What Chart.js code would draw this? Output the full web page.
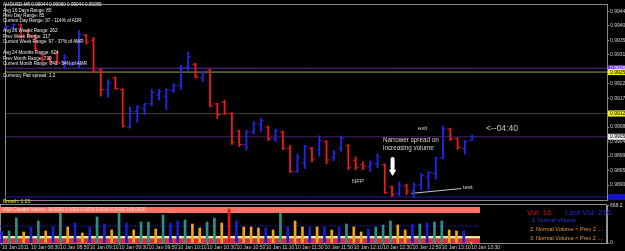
<!DOCTYPE html>
<html><head><meta charset="utf-8">
<script src="https://cdn.jsdelivr.net/npm/chart.js@4.4.1/dist/chart.umd.min.js"></script>
<style>
html,body{margin:0;padding:0;background:#000;width:625px;height:251px;overflow:hidden;}
canvas{position:absolute;left:0;display:block;}
#c1{top:0}
#c2{top:203px}
.t{position:absolute;white-space:nowrap;line-height:1;font-family:"Liberation Sans",Arial,sans-serif;transform:scale(0.5);transform-origin:0 0;}
</style></head><body>
<canvas id="c1" width="625" height="204"></canvas>
<canvas id="c2" width="625" height="48"></canvas>
<div id="txt"></div>
<script>
// ---------- data ----------
const timeLabels = ["10 Jan 2011","10 Jan 08:30","10 Jan 08:50","10 Jan 09:10","10 Jan 09:30","10 Jan 09:50","10 Jan 10:10","10 Jan 10:30","10 Jan 10:50","10 Jan 11:10","10 Jan 11:30","10 Jan 11:50","10 Jan 12:10","10 Jan 12:30","10 Jan 12:50","10 Jan 13:10","10 Jan 13:30"];
const opens  = [0.99394,0.99394,0.99403,0.99382,0.99370,0.99310,0.99298,0.99313,0.99283,0.99280,0.99283,0.99370,0.99355,0.99262,0.99202,0.99238,0.99202,0.99085,0.99133,0.99142,0.99157,0.99184,0.99181,0.99199,0.99214,0.99271,0.99280,0.99238,0.99262,0.99157,0.99163,0.99127,0.99073,0.99031,0.99070,0.99094,0.99085,0.99049,0.99070,0.99019,0.98947,0.98974,0.99019,0.99013,0.99040,0.98989,0.99019,0.99028,0.98980,0.98968,0.98962,0.98971,0.98968,0.98899,0.98878,0.98902,0.98887,0.98905,0.98929,0.98941,0.98989,0.99079,0.99049,0.99019,0.99044];
const highs  = [0.99400,0.99406,0.99406,0.99388,0.99373,0.99313,0.99304,0.99319,0.99310,0.99289,0.99385,0.99373,0.99364,0.99268,0.99232,0.99241,0.99205,0.99148,0.99151,0.99160,0.99202,0.99202,0.99205,0.99220,0.99277,0.99319,0.99283,0.99259,0.99265,0.99160,0.99169,0.99130,0.99076,0.99076,0.99103,0.99112,0.99088,0.99079,0.99073,0.99028,0.99001,0.99028,0.99022,0.99058,0.99043,0.99013,0.99058,0.99031,0.98992,0.98977,0.98980,0.99001,0.98971,0.98902,0.98914,0.98908,0.98911,0.98941,0.98947,0.98992,0.99088,0.99082,0.99052,0.99043,0.99060];
const lows   = [0.99391,0.99388,0.99361,0.99364,0.99322,0.99289,0.99283,0.99280,0.99265,0.99274,0.99268,0.99343,0.99253,0.99181,0.99178,0.99202,0.99085,0.99082,0.99100,0.99124,0.99151,0.99169,0.99139,0.99193,0.99202,0.99259,0.99238,0.99226,0.99148,0.99112,0.99124,0.99031,0.99025,0.99013,0.99064,0.99070,0.99043,0.99040,0.99016,0.98944,0.98944,0.98956,0.98977,0.98995,0.98971,0.98980,0.99010,0.98953,0.98953,0.98953,0.98947,0.98959,0.98878,0.98869,0.98872,0.98875,0.98866,0.98890,0.98890,0.98923,0.98986,0.99043,0.99016,0.99001,0.99044];
const closes = [0.99397,0.99403,0.99367,0.99370,0.99328,0.99295,0.99289,0.99286,0.99301,0.99286,0.99373,0.99349,0.99259,0.99202,0.99223,0.99205,0.99088,0.99133,0.99148,0.99157,0.99193,0.99196,0.99202,0.99214,0.99268,0.99304,0.99241,0.99253,0.99151,0.99124,0.99127,0.99037,0.99031,0.99070,0.99094,0.99106,0.99049,0.99073,0.99019,0.98947,0.98989,0.99025,0.98986,0.99043,0.98983,0.99004,0.99049,0.98959,0.98959,0.98962,0.98971,0.98992,0.98881,0.98875,0.98902,0.98887,0.98905,0.98935,0.98944,0.98989,0.99079,0.99049,0.99022,0.99040,0.99055];
const priceTicks = [0.99445,0.99400,0.99355,0.99310,0.99265,0.99220,0.99175,0.99130,0.99085,0.99040,0.98995,0.98950,0.98905];
const levelValues = [0.99268,0.99256,0.99127,0.99055,0.98868];
const volumes = [216,216,450,198,288,396,216,288,540,288,360,180,288,468,342,234,540,360,234,378,378,252,504,360,396,414,342,270,378,450,360,612,396,288,288,270,270,234,540,288,396,288,288,288,288,234,288,342,288,198,252,288,324,396,324,234,342,342,360,378,396,234,216,216,16];
const volumeClass = ["B","T","T","O","B","T","O","B","T","O","B","O","B","T","B","O","T","B","O","T","T","O","T","B","B","T","O","O","T","T","O","R","B","O","O","O","B","O","T","B","O","O","B","O","B","O","B","T","O","O","B","T","T","T","O","O","B","T","B","T","T","O","O","B","O"];
const volumeTicks = [0, 668.2];
const volumeMA = [306];
const bandTops = [648, 126, 81];
const bandBottoms = [540, 81, 0];
const testLineX = [55.67, 62.48];
const testLineY = [0.98879, 0.98894];
const arrowX = [53.07];
const arrowY = [0.98986, 0.98956, 0.98946];

// ---------- setup ----------
Chart.defaults.font.family = '"Liberation Sans", Arial, sans-serif';
const xMin = -0.23, xMax = 82.52, bandEnd = 65.2;
const upC = '#2626e8', dnC = '#e81c1c';
const barColors = opens.map((o, i) => closes[i] >= o ? upC : dnC);
const volPalette = {T:'#2c9089', B:'#1c1cd2', O:'#f2a21e', R:'#e41818'};
const volColors = volumeClass.map(c => volPalette[c]);
const levelStyles = [
  {c:'#5e2aa6', d:[], box:'#7a3ae6', t:'#ffffff'},
  {c:'#a0a040', d:[], box:'#f0f020', t:'#000000'},
  {c:'#80806a', d:[1,1], box:'#f0f020', t:'#000000'},
  {c:'#8444cc', d:[1,1], box:'#e8e8e8', t:'#000000'},
  {c:'#1e1eb0', d:[], box:'#1414c8', t:'#1414c8'}
];

const framePlugin = {
  id:'frame',
  beforeDatasetsDraw(chart){
    const {ctx, chartArea:a} = chart;
    ctx.save();
    ctx.strokeStyle = '#8a8a8a'; ctx.lineWidth = 1;
    ctx.strokeRect(Math.round(a.left)+0.5, Math.round(a.top)-0.5, Math.round(a.right-a.left)-1, Math.round(a.bottom-a.top)+1);
    ctx.restore();
  }
};
const axisBoxes = {
  id:'axisBoxes',
  afterDraw(chart){
    const {ctx, scales:{y}, chartArea:a} = chart;
    ctx.save();
    ctx.font = '5px "Liberation Sans", Arial, sans-serif';
    ctx.textBaseline = 'middle';
    levelValues.forEach((v, k) => {
      const py = y.getPixelForValue(v);
      const s = levelStyles[k];
      ctx.fillStyle = s.box; ctx.fillRect(a.right + 1, py - 3, 18, 6);
      ctx.fillStyle = s.t; ctx.fillText(v.toFixed(5), a.right + 3, py + 0.3);
    });
    ctx.restore();
  }
};
function zeroPad(s){ s.paddingTop = 0; s.paddingBottom = 0; s.paddingLeft = 0; s.paddingRight = 0; }

// ---------- price chart ----------
const lineBase = {type:'line', pointRadius:0, pointHoverRadius:0, fill:false, tension:0};
new Chart(document.getElementById('c1'), {
  type:'bar',
  data:{datasets:[
    {type:'line', data: opens.map((v,i)=>({x:i-0.2, y:v})), showLine:false, pointStyle:'line', pointRadius:1.5, pointHoverRadius:1.5, pointBorderWidth:1, pointBorderColor:barColors, pointBackgroundColor:barColors},
    {type:'line', data: closes.map((v,i)=>({x:i+0.2, y:v})), showLine:false, pointStyle:'line', pointRadius:1.5, pointHoverRadius:1.5, pointBorderWidth:1, pointBorderColor:barColors, pointBackgroundColor:barColors},
    {type:'bar', data: highs.map((h,i)=>({x:i, y:[lows[i], h]})), backgroundColor:barColors, barThickness:1.2, grouped:false},
    Object.assign({}, lineBase, {data: testLineX.map((x,k)=>({x, y:testLineY[k]})), borderColor:'#c8c8c8', borderWidth:1}),
    Object.assign({}, lineBase, {data: [{x:arrowX[0], y:arrowY[0]},{x:arrowX[0], y:arrowY[1]}], borderColor:'#ffffff', borderWidth:4, borderCapStyle:'round'}),
    {type:'line', data:[{x:arrowX[0], y:arrowY[2]}], showLine:false, pointStyle:'triangle', rotation:180, pointRadius:3.5, pointHoverRadius:3.5, pointBackgroundColor:'#ffffff', pointBorderColor:'#ffffff'},
    ...levelValues.map((v,k)=>Object.assign({}, lineBase, {data:[{x:xMin,y:v},{x:xMax,y:v}], borderColor:levelStyles[k].c, borderWidth:1, borderDash:levelStyles[k].d}))
  ]},
  options:{
    responsive:false, animation:false, devicePixelRatio:1,
    layout:{padding:{top:1,bottom:1,left:0,right:0}},
    plugins:{legend:{display:false}, tooltip:{enabled:false}},
    scales:{
      x:{type:'linear', min:xMin, max:xMax, display:false, offset:false, grid:{offset:false}},
      y:{position:'right', min:0.98860, max:0.99466,
         afterBuildTicks(s){ s.ticks = priceTicks.map(v=>({value:v})); },
         afterFit(s){ s.width = 18; zeroPad(s); },
         ticks:{font:{size:5}, color:'#cfcfcf', padding:1, autoSkip:false, callback:v=>Number(v).toFixed(5)},
         grid:{display:true, drawOnChartArea:false, tickLength:2, color:'#9a9a9a'},
         border:{display:true, color:'#9a9a9a'}}
    }
  },
  plugins:[framePlugin, axisBoxes]
});

// ---------- volume chart ----------
new Chart(document.getElementById('c2'), {
  type:'bar',
  data:{datasets:[
    {type:'bar', data: volumes.map((v,i)=>({x:i, y:v})), backgroundColor:volColors, barThickness:2, grouped:false},
    Object.assign({}, lineBase, {data:[{x:xMin,y:volumeMA[0]},{x:bandEnd,y:volumeMA[0]}], borderColor:'#2a2af0', borderWidth:1, borderDash:[1,1.5]}),
    Object.assign({}, lineBase, {data:[{x:xMin,y:bandTops[0]},{x:bandEnd,y:bandTops[0]}], fill:{value:bandBottoms[0]}, backgroundColor:'#ff7462', borderWidth:0}),
    Object.assign({}, lineBase, {data:[{x:xMin,y:bandTops[1]},{x:bandEnd,y:bandTops[1]}], fill:{value:bandBottoms[1]}, backgroundColor:'#f4e4a4', borderWidth:0}),
    Object.assign({}, lineBase, {data:[{x:xMin,y:bandTops[2]},{x:bandEnd,y:bandTops[2]}], fill:{value:bandBottoms[2]}, backgroundColor:'#e2283c', borderWidth:0})
  ]},
  options:{
    responsive:false, animation:false, devicePixelRatio:1,
    layout:{padding:{top:2,bottom:0,left:0,right:0}},
    plugins:{legend:{display:false}, tooltip:{enabled:false}},
    scales:{
      x:{type:'linear', min:xMin, max:xMax, offset:false,
         afterBuildTicks(s){ s.ticks = timeLabels.map((_,k)=>({value:k*4})); },
         afterFit(s){ s.height = 8; zeroPad(s); },
         ticks:{font:{size:5}, color:'#cfcfcf', padding:0, align:'start', autoSkip:false, maxRotation:0, minRotation:0, callback:(v,i)=>timeLabels[i]},
         grid:{display:true, drawOnChartArea:false, tickLength:2, color:'#9a9a9a', offset:false},
         border:{display:true, color:'#9a9a9a'}},
      y:{position:'right', min:0, max:684,
         afterBuildTicks(s){ s.ticks = volumeTicks.map(v=>({value:v})); },
         afterFit(s){ s.width = 18; zeroPad(s); },
         ticks:{font:{size:5}, color:'#cfcfcf', padding:1, autoSkip:false, callback:v=>String(v)},
         grid:{display:true, drawOnChartArea:false, tickLength:2, color:'#9a9a9a'},
         border:{display:true, color:'#9a9a9a'}}
    }
  },
  plugins:[framePlugin]
});

// ---------- text overlays (drawn at 2x then scaled to avoid minimum font size) ----------
const H = '#ececec';
const texts = [
  [3,5,4.6,H,"AUDUSD,M5  0.99044 0.99060 0.99044 0.99055"],
  [3,10.5,4.6,H,"Avg 16 Days Range: 85"],
  [3,15.5,4.6,H,"Prev Day Range: 85"],
  [3,20.5,4.6,H,"Current Day Range: 97 - 114% of ADR"],
  [3,31,4.6,H,"Avg 26 Weeks Range: 262"],
  [3,36.5,4.6,H,"Prev Week Range: 217"],
  [3,42,4.6,H,"Current Week Range: 97 - 37% of AWR"],
  [3,53,4.6,H,"Avg 24 Months Range: 624"],
  [3,58.5,4.6,H,"Prev Month Range: 730"],
  [3,64,4.6,H,"Current Month Range: 340 - 54% of AMR"],
  [3,76,4.6,H,"Currency Pair spread: 1.2"],
  [418,128,6,'#d6d6d6',"exit"],
  [486,129,8.5,'#c8c8c8',"<--04:40"],
  [383,140,6.3,'#d6d6d6',"Narrower spread on"],
  [383,148,6.3,'#d6d6d6',"increasing volume"],
  [352,181,6,'#d6d6d6',"NFP"],
  [463,187,6,'#d6d6d6',"test"],
  [3,202,5,'#e6e61e',"Breath: 1.23"],
  [3,210,4.6,'#ffe6dc',"VSA Coaster Volume 16.0000 0.0000 0.0000 0.0000 0.0000 168.0000"],
  [527,212,8,'#cc1414',"Vol: 16"],
  [565,212,8,'#2424e0',"Last Vol: 216"],
  [532,220,5.5,'#2a36f0',"1. Normal Volume"],
  [530,229.5,5.5,'#e89a30',"2. Normal Volume < Prev 2 ...."],
  [530,238.5,5.5,'#e89a30',"3. Normal Volume < Prev 2 ...."]
];
const box = document.getElementById('txt');
texts.forEach(([x,y,s,c,t]) => {
  const d = document.createElement('div');
  d.className = 't';
  d.style.left = x + 'px';
  d.style.top = (y - s*0.55) + 'px';
  d.style.fontSize = (2*s) + 'px';
  d.style.color = c;
  d.textContent = t;
  box.appendChild(d);
});
</script>
</body></html>
